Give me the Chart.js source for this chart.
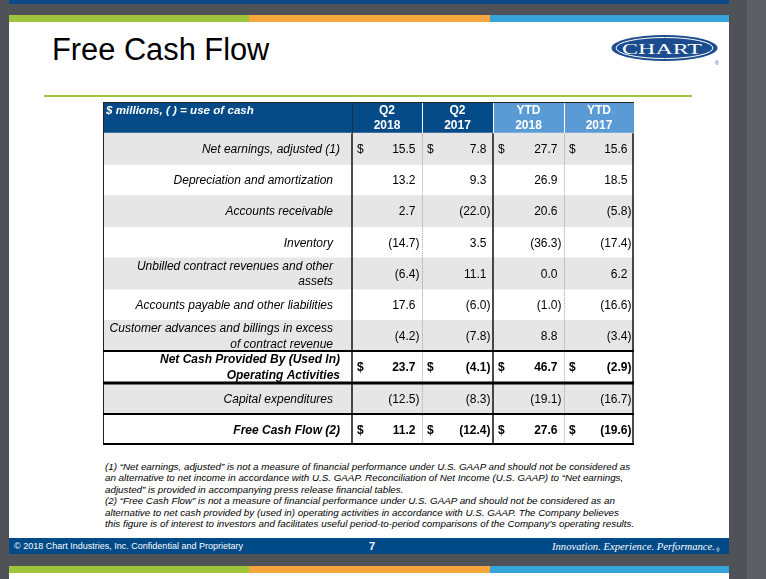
<!DOCTYPE html>
<html>
<head>
<meta charset="utf-8">
<script src="https://cdn.jsdelivr.net/npm/chart.js@4.4.0/dist/chart.umd.min.js"></script>
<style>
  html, body { margin: 0; padding: 0; }
  body { width: 766px; height: 579px; overflow: hidden; position: relative; background: #505357;
         font-family: "Liberation Sans", Arial, sans-serif; }
  #deco { position: absolute; left: 0; top: 0; }
  #tbl { position: absolute; left: 101px; top: 100px; }
</style>
</head>
<body>

<svg id="deco" width="766" height="579" xmlns="http://www.w3.org/2000/svg">
  <rect x="0" y="0" width="766" height="579" fill="#4f5256"/>
  <rect x="747" y="0" width="19" height="579" fill="#5c5f63"/>
  <!-- previous slide footer -->
  <rect x="9" y="0" width="720" height="4" fill="#0b4a86"/>
  <!-- slide -->
  <rect x="9" y="15" width="720" height="539" fill="#ffffff"/>
  <rect x="9" y="15" width="240" height="7" fill="#9dc43a"/>
  <rect x="249" y="15" width="241" height="7" fill="#f6a63d"/>
  <rect x="490" y="15" width="239" height="7" fill="#35a4db"/>

  <text x="52" y="60" font-family="Liberation Sans, Arial, sans-serif" font-size="30.8" fill="#000">Free Cash Flow</text>
  <rect x="44" y="95" width="648" height="2" fill="#a0c63e"/>

  <!-- logo -->
  <ellipse cx="664.5" cy="48" rx="53" ry="13" fill="#1b4c8e"/>
  <ellipse cx="664.5" cy="48" rx="48.5" ry="10.5" fill="none" stroke="#ffffff" stroke-width="1"/>
  <text x="622" y="53.5" font-family="Liberation Serif, serif" font-size="14.5" fill="#ffffff"
        textLength="80" lengthAdjust="spacingAndGlyphs">CHART</text>
  <text x="715" y="65" font-family="Liberation Sans, Arial" font-size="5" fill="#1b4c8e">®</text>

  <!-- footnotes -->
  <g font-family="Liberation Sans, Arial, sans-serif" font-style="italic" font-size="9.8" fill="#000">
    <text x="105" y="469.5">(1) “Net earnings, adjusted” is not a measure of financial performance under U.S. GAAP and should not be considered as</text>
    <text x="105" y="481">an alternative to net income in accordance with U.S. GAAP. Reconciliation of Net Income (U.S. GAAP) to “Net earnings,</text>
    <text x="105" y="492.5">adjusted” is provided in accompanying press release financial tables.</text>
    <text x="105" y="504">(2) “Free Cash Flow” is not a measure of financial performance under U.S. GAAP and should not be considered as an</text>
    <text x="105" y="515.5">alternative to net cash provided by (used in) operating activities in accordance with U.S. GAAP.  The Company believes</text>
    <text x="105" y="527">this figure is of interest to investors and facilitates useful period-to-period comparisons of the Company’s operating results.</text>
  </g>

  <!-- footer -->
  <rect x="9" y="538" width="720" height="16" fill="#004a87"/>
  <text x="14" y="549" font-family="Liberation Sans Narrow, Liberation Sans, Arial" font-size="9.5" fill="#ffffff"
        textLength="229" lengthAdjust="spacingAndGlyphs">© 2018 Chart Industries, Inc. Confidential and Proprietary</text>
  <text x="369" y="550" font-family="Liberation Sans, Arial" font-size="11" font-weight="bold" fill="#ffffff">7</text>
  <text x="552" y="550" font-family="Liberation Serif, serif" font-style="italic" font-size="11" fill="#ffffff"
        textLength="163" lengthAdjust="spacingAndGlyphs">Innovation. Experience. Performance.</text>
  <text x="716" y="552" font-family="Liberation Sans, Arial" font-size="5" fill="#ffffff">®</text>

  <!-- next slide -->
  <rect x="9" y="566" width="720" height="13" fill="#ffffff"/>
  <rect x="9" y="566" width="240" height="7" fill="#9dc43a"/>
  <rect x="249" y="566" width="241" height="7" fill="#f6a63d"/>
  <rect x="490" y="566" width="239" height="7" fill="#35a4db"/>
</svg>

<canvas id="tbl" width="535" height="347"></canvas>

<script>
// ---------------- data ----------------
const unitNote = '$ millions, ( ) = use of cash';
const periods = [['Q2', '2018'], ['Q2', '2017'], ['YTD', '2018'], ['YTD', '2017']];

const rowLabels = [
  ['Net earnings, adjusted (1)'],
  ['Depreciation and amortization'],
  ['Accounts receivable'],
  ['Inventory'],
  ['Unbilled contract revenues and other', 'assets'],
  ['Accounts payable and other liabilities'],
  ['Customer advances and billings in excess', 'of contract revenue'],
  ['Net Cash Provided By (Used In)', 'Operating Activities'],
  ['Capital expenditures'],
  ['Free Cash Flow (2)']
];

const q2_2018  = [15.5, 13.2,   2.7, -14.7, -6.4,  17.6, -4.2, 23.7, -12.5,  11.2];
const q2_2017  = [ 7.8,  9.3, -22.0,   3.5, 11.1,  -6.0, -7.8, -4.1,  -8.3, -12.4];
const ytd_2018 = [27.7, 26.9,  20.6, -36.3,  0.0,  -1.0,  8.8, 46.7, -19.1,  27.6];
const ytd_2017 = [15.6, 18.5,  -5.8, -17.4,  6.2, -16.6, -3.4, -2.9, -16.7, -19.6];
const columns = [q2_2018, q2_2017, ytd_2018, ytd_2017];

const dollarRows = [0, 7, 9];   // rows that show "$"
const boldRows = [7, 9];

// ---------------- layout ----------------
// column edges in table units (label column + 4 period columns)
const colEdges = [0, 249, 319, 390, 461, 531];
const tableWidth = colEdges[colEdges.length - 1];

const yLabels = ['header'].concat(rowLabels.map(r => r.join(' ')));

// row shading: gray on every other body row
const shade = yLabels.map((_, i) => (i > 0 && (i - 1) % 2 === 0) ? [0, tableWidth] : null);
const headDark = yLabels.map((_, i) => i === 0 ? [0, colEdges[3]] : null);
const headLight = yLabels.map((_, i) => i === 0 ? [colEdges[3], tableWidth] : null);

function fmt(v) {
  const s = Math.abs(v).toFixed(1);
  return v < 0 ? '(' + s + ')' : s;
}

const tablePlugin = {
  id: 'tableText',
  afterDatasetsDraw(chart) {
    const { ctx, chartArea: ca, scales: { x, y } } = chart;
    const px = v => x.getPixelForValue(v);
    const band = Math.abs(y.getPixelForValue(1) - y.getPixelForValue(0));
    const edgeY = i => y.getPixelForValue(i) - band / 2;   // top of row i
    const headBottom = edgeY(1);
    const font = (w, s, size) => (s || '') + ' ' + (w || '') + ' ' + (size || 12) + 'px "Liberation Sans", Arial, sans-serif';

    ctx.save();
    ctx.textBaseline = 'middle';

    // header text
    const hc = y.getPixelForValue(0);
    ctx.fillStyle = '#ffffff';
    ctx.textAlign = 'left';
    ctx.font = font('bold', 'italic', 11.6);
    ctx.fillText(unitNote, px(0) + 3, hc - 7);
    ctx.textAlign = 'center';
    ctx.font = font('bold', '', 12);
    periods.forEach((p, c) => {
      const cx = (px(colEdges[c + 1]) + px(colEdges[c + 2])) / 2;
      ctx.fillText(p[0], cx, hc - 7);
      ctx.fillText(p[1], cx, hc + 8);
    });

    // body rows
    rowLabels.forEach((lines, r) => {
      const i = r + 1;
      const cy = y.getPixelForValue(i);
      const bold = boldRows.includes(r);
      const dollar = dollarRows.includes(r);
      ctx.fillStyle = '#000000';
      ctx.textAlign = 'right';
      ctx.font = font(bold ? 'bold' : '', 'italic');
      const lx = px(colEdges[1]) - (dollar ? 12 : 19);
      if (lines.length === 1) {
        ctx.fillText(lines[0], lx, cy + 1);
      } else {
        ctx.fillText(lines[0], lx, cy - 7);
        ctx.fillText(lines[1], lx, cy + 8.5);
      }

      ctx.font = font(bold ? 'bold' : '');
      const paren = ctx.measureText(')').width;
      columns.forEach((vals, c) => {
        const left = px(colEdges[c + 1]);
        const right = px(colEdges[c + 2]);
        const v = vals[r];
        ctx.textAlign = 'right';
        ctx.fillText(fmt(v), right - 2.5 - (v < 0 ? 0 : paren), cy + 1);
        if (dollar) {
          ctx.textAlign = 'left';
          ctx.fillText('$', left + 5, cy + 1);
        }
      });
    });

    // header separators
    ctx.lineWidth = 1;
    ctx.strokeStyle = '#1c2c44';
    ctx.beginPath();
    ctx.moveTo(Math.round(px(colEdges[1])) + 0.5, ca.top);
    ctx.lineTo(Math.round(px(colEdges[1])) + 0.5, headBottom);
    ctx.stroke();
    ctx.strokeStyle = '#ffffff';
    [2, 3, 4].forEach(k => {
      const xx = Math.round(px(colEdges[k])) + 0.5;
      ctx.beginPath();
      ctx.moveTo(xx, ca.top);
      ctx.lineTo(xx, headBottom);
      ctx.stroke();
    });

    // body vertical lines
    ctx.strokeStyle = '#111111';
    ctx.lineWidth = 1.5;
    [1, 3, 5].forEach(k => {
      const xx = Math.round(px(colEdges[k])) - (k === 5 ? 1 : 0);
      ctx.beginPath();
      ctx.moveTo(xx, headBottom);
      ctx.lineTo(xx, ca.bottom);
      ctx.stroke();
    });
    ctx.strokeStyle = '#a0a0a0';
    ctx.lineWidth = 1;
    ctx.setLineDash([1, 1]);
    [2, 4].forEach(k => {
      const xx = Math.round(px(colEdges[k])) + 0.5;
      ctx.beginPath();
      ctx.moveTo(xx, headBottom);
      ctx.lineTo(xx, ca.bottom);
      ctx.stroke();
    });
    ctx.setLineDash([]);

    // left and top border
    ctx.strokeStyle = '#222222';
    ctx.lineWidth = 1;
    ctx.beginPath();
    ctx.moveTo(px(0) + 0.5, ca.top);
    ctx.lineTo(px(0) + 0.5, ca.bottom);
    ctx.moveTo(px(0), ca.top + 0.5);
    ctx.lineTo(px(tableWidth), ca.top + 0.5);
    ctx.stroke();

    // horizontal rules around the totals
    const rules = [[8, 2], [9, 3], [10, 2]];
    ctx.strokeStyle = '#000000';
    rules.forEach(([i, w]) => {
      const yy = Math.round(edgeY(i));
      ctx.lineWidth = w;
      ctx.beginPath();
      ctx.moveTo(px(0), yy);
      ctx.lineTo(px(tableWidth), yy);
      ctx.stroke();
    });
    ctx.lineWidth = 2;
    ctx.beginPath();
    ctx.moveTo(px(0), Math.round(ca.bottom) - 1);
    ctx.lineTo(px(tableWidth), Math.round(ca.bottom) - 1);
    ctx.stroke();

    ctx.restore();
  }
};

new Chart(document.getElementById('tbl'), {
  type: 'bar',
  data: {
    labels: yLabels,
    datasets: [
      { data: shade, backgroundColor: '#e6e6e6' },
      { data: headDark, backgroundColor: '#034a86' },
      { data: headLight, backgroundColor: '#5b9bd5' }
    ]
  },
  options: {
    indexAxis: 'y',
    responsive: false,
    animation: false,
    devicePixelRatio: 1,
    layout: { padding: 2 },
    datasets: {
      bar: { grouped: false, barPercentage: 1, categoryPercentage: 1, borderWidth: 0 }
    },
    scales: {
      x: { type: 'linear', min: 0, max: tableWidth, display: false },
      y: { type: 'category', display: false, offset: true }
    },
    plugins: {
      legend: { display: false },
      tooltip: { enabled: false }
    }
  },
  plugins: [tablePlugin]
});
</script>
</body>
</html>
